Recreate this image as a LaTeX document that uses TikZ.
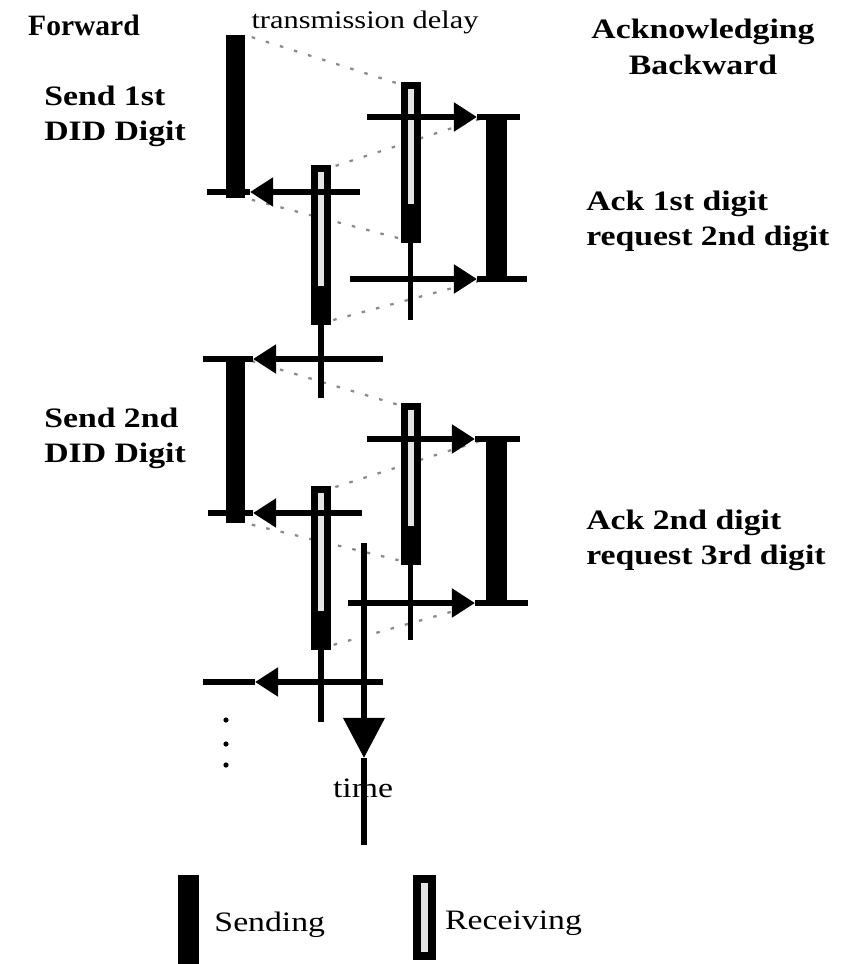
\documentclass[tikz,border=0pt]{standalone}
\usepackage{fontspec}
\setmainfont{Liberation Serif}[FakeStretch=1.2]
\newfontfamily\narrowserif{Liberation Serif}
\usepackage{tikz}
\usetikzlibrary{arrows.meta,positioning,backgrounds}
\definecolor{dotgray}{HTML}{8A8A8A}
\definecolor{rxfill}{HTML}{E4E4E4}

\begin{document}
\begin{tikzpicture}[
      x=0.025cm, y=-0.025cm,
      sendbar/.style = {fill=black, inner sep=0pt, outer sep=0pt, anchor=north,
                        minimum width=0.475cm},
      ackbar/.style  = {sendbar, minimum width=0.525cm},
      recvkey/.style = {draw, line width=0.175cm, fill=rxfill, inner sep=0pt, outer sep=0pt,
                        anchor=north, minimum width=0.325cm},
      recvbar/.style = {recvkey, path picture={\fill[black] (path picture bounding box.south west)
                        rectangle ([yshift=0.9cm]path picture bounding box.south east);}},
      ln/.style      = {line width=0.14cm},
      arr/.style     = {ln, -{Triangle[length=0.58cm, width=0.7cm]}},
      tarr/.style    = {line width=0.17cm, -{Triangle[length=1cm, width=1cm]}},
      delay/.style   = {dotgray, line width=1.6pt, dash pattern=on 2.5pt off 8pt,
                        shorten <=5pt, shorten >=4pt},
      hdr/.style     = {font=\fontsize{20}{26}\selectfont\bfseries, align=center, inner sep=0pt},
      side/.style    = {font=\fontsize{20}{25}\selectfont\bfseries, align=left, anchor=west,
                        inner sep=0pt},
      txt/.style     = {font=\fontsize{20}{24}\selectfont, inner sep=0pt},
      dot/.style     = {circle, fill=black, inner sep=0pt, minimum size=0.13cm},
    ]
    \useasboundingbox (0,0) rectangle (859,964);

    % ---- headings ----
    \node[hdr, font=\narrowserif\fontsize{21}{25}\selectfont\bfseries] (fwd) at (84,25) {Forward};
    \node[txt, font=\fontsize{18}{22}\selectfont] (tdelay) at (365,22) {transmission delay};
    \node[hdr] (ackbk) at (703,47) {Acknowledging\\Backward};

    % ---- 1st digit ----
    \node[sendbar, minimum height=4.075cm] (sx1) at (235.5,35)  {};
    \node[recvbar, minimum height=3.85cm]  (rx1) at (410.5,85.5) {};
    \node[ackbar,  minimum height=4.05cm]  (ax1) at (496.5,117) {};
    \node[recvbar, minimum height=3.825cm] (rx2) at (321,168.5) {};

    \node[side] (snd1) at (44,116)  {Send 1st\\DID Digit};
    \node[side] (ack1) at (586,221) {Ack 1st digit\\request 2nd digit};

    \coordinate (rw1s) at (367,117); \coordinate (rw1t) at (477,117); \coordinate (rw1e) at (520,117);
    \coordinate (lw1s) at (360,192); \coordinate (lw1t) at (250,192); \coordinate (lw1e) at (207,192);
    \coordinate (rw2s) at (350,279); \coordinate (rw2t) at (477,279); \coordinate (rw2e) at (527,279);
    \coordinate (lw2s) at (383,359); \coordinate (lw2t) at (253,359); \coordinate (lw2e) at (203,359);
    \coordinate (rx1e) at (410.5,320);
    \coordinate (rx2e) at (321,398);

    \draw[ln]  (rx1.south) -- (rx1e);
    \draw[ln]  (rx2.south) -- (rx2e);
    \draw[arr] (rw1s) -- (rw1t);
    \draw[ln]  (rw1t) -- (rw1e);
    \draw[arr] (lw1s) -- (lw1t);
    \draw[ln]  (lw1t) -- (lw1e);
    \draw[arr] (rw2s) -- (rw2t);
    \draw[ln]  (rw2t) -- (rw2e);
    \draw[arr] (lw2s) -- (lw2t);
    \draw[ln]  (lw2t) -- (lw2e);

    % ---- 2nd digit ----
    \node[sendbar, minimum height=4.1cm]   (sx2) at (235.5,359) {};
    \node[recvbar, minimum height=3.875cm] (rx3) at (410.5,406.5) {};
    \node[ackbar,  minimum height=4.075cm] (ax2) at (496.5,439) {};
    \node[recvbar, minimum height=3.925cm] (rx4) at (321,489.5) {};

    \node[side] (snd2) at (44,438)  {Send 2nd\\DID Digit};
    \node[side] (ack2) at (586,540) {Ack 2nd digit\\request 3rd digit};

    \coordinate (rw3s) at (367,439); \coordinate (rw3t) at (475,439); \coordinate (rw3e) at (520,439);
    \coordinate (lw3s) at (362,513); \coordinate (lw3t) at (253,513); \coordinate (lw3e) at (208,513);
    \coordinate (rw4s) at (348,603); \coordinate (rw4t) at (475,603); \coordinate (rw4e) at (528,603);
    \coordinate (lw4s) at (383,682); \coordinate (lw4t) at (255,682); \coordinate (lw4e) at (203,682);
    \coordinate (rx3e) at (410.5,640);
    \coordinate (rx4e) at (321,722);

    \draw[ln]  (rx3.south) -- (rx3e);
    \draw[ln]  (rx4.south) -- (rx4e);
    \draw[arr] (rw3s) -- (rw3t);
    \draw[ln]  (rw3t) -- (rw3e);
    \draw[arr] (lw3s) -- (lw3t);
    \draw[ln]  (lw3t) -- (lw3e);
    \draw[arr] (rw4s) -- (rw4t);
    \draw[ln]  (rw4t) -- (rw4e);
    \draw[arr] (lw4s) -- (lw4t);
    \draw[ln]  (lw4t) -- (lw4e);

    % transmission delay (dotted)
    \begin{scope}[on background layer]
      \draw[delay] (sx1.north east) -- (rx1.north west);
      \draw[delay] (sx1.south east) -- (rx1.south west);
      \draw[delay] (ax1.north west) -- (rx2.north east);
      \draw[delay] (ax1.south west) -- (rx2.south east);
      \draw[delay] (sx2.north east) -- (rx3.north west);
      \draw[delay] (sx2.south east) -- (rx3.south west);
      \draw[delay] (ax2.north west) -- (rx4.north east);
      \draw[delay] (ax2.south west) -- (rx4.south east);
    \end{scope}

    % ---- time axis ----
    \node[txt] (time) at (363,788) {time};
    \coordinate (t0) at (364,543); \coordinate (tt) at (364,758); \coordinate (t1) at (364,845);
    \draw[tarr] (t0) -- (tt);
    \draw[line width=0.17cm] (tt) -- (t1);

    \node[dot] (d1) at (226,720) {};
    \node[dot] (d2) at (226,744) {};
    \node[dot] (d3) at (226,765) {};

    % legend
    \node[sendbar, minimum width=0.525cm, minimum height=2.225cm] (legs) at (188.5,875) {};
    \node[txt, right=0.38cm of legs, yshift=-4pt] {Sending};
    \node[recvkey, line width=0.2cm, minimum width=0.375cm, minimum height=1.925cm] (legr) at (424.5,879) {};
    \node[txt, right=0.32cm of legr, yshift=-4pt] {Receiving};
  \end{tikzpicture}
\end{document}
